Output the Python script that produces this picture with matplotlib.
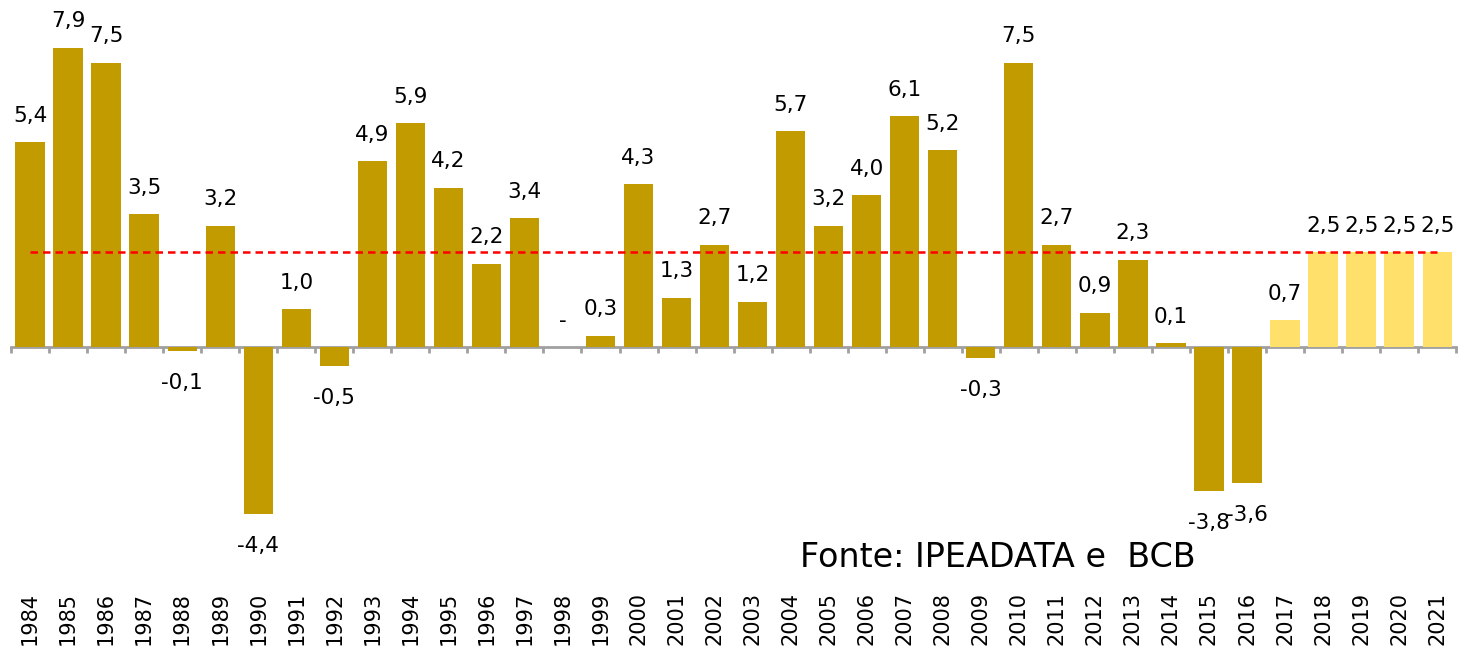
import numpy as np
import matplotlib as mpl
mpl.use('Agg')
import matplotlib.pyplot as plt
import matplotlib.transforms as mtransforms

mpl.rcParams['font.family'] = 'DejaVu Sans'

years = list(range(1984, 2022))
values = [5.4, 7.9, 7.5, 3.5, -0.1, 3.2, -4.4, 1.0, -0.5, 4.9,
          5.9, 4.2, 2.2, 3.4, 0.0, 0.3, 4.3, 1.3, 2.7, 1.2,
          5.7, 3.2, 4.0, 6.1, 5.2, -0.3, 7.5, 2.7, 0.9, 2.3,
          0.1, -3.8, -3.6, 0.7, 2.5, 2.5, 2.5, 2.5]
labels = ['5,4', '7,9', '7,5', '3,5', '-0,1', '3,2', '-4,4', '1,0', '-0,5', '4,9',
          '5,9', '4,2', '2,2', '3,4', '-', '0,3', '4,3', '1,3', '2,7', '1,2',
          '5,7', '3,2', '4,0', '6,1', '5,2', '-0,3', '7,5', '2,7', '0,9', '2,3',
          '0,1', '-3,8', '-3,6', '0,7', '2,5', '2,5', '2,5', '2,5']
first_proj = 2017   # projections in light colour
ref_level = 2.5

dark = '#c29b00'
light = '#fee06a'
axis_gray = '#a0a0a0'

fig = plt.figure(figsize=(14.71, 6.5), dpi=100)
ax = fig.add_axes([0, 0, 1, 1])

x = np.arange(len(years))
colors = [light if y >= first_proj else dark for y in years]
ax.bar(x, values, width=0.77, color=colors, zorder=2)

# reference line
ax.plot([x[0], x[-1]], [ref_level, ref_level], color='#ff0000',
        linestyle=(0, (3, 2)), linewidth=1.8, zorder=3)

# value labels
for xi, v, lab in zip(x, values, labels):
    if v < 0:
        off = -23
    else:
        off = 19
    ax.annotate(lab, (xi, v), xytext=(0, off), textcoords='offset points',
                ha='center', va='center', fontsize=15.5)

# zero axis with ticks between bars
ax.set_xlim(-0.79, 37.89)
ax.set_ylim(-8.0, 9.16)
for s in ax.spines.values():
    s.set_visible(False)
ax.set_yticks([])
ax.set_xticks([])
ticks = np.arange(-0.5, len(years), 1.0)
ax.vlines(ticks, 0, -0.16, color=axis_gray, linewidth=2, zorder=1)
ax.plot([-0.5, len(years) - 0.5], [0, 0], color=axis_gray, linewidth=2, zorder=1)

# year labels at the bottom
trans = mtransforms.blended_transform_factory(ax.transData, ax.transAxes)
for xi, y in zip(x, years):
    ax.text(xi, 0.008, str(y), transform=trans, rotation=90,
            ha='center', va='bottom', fontsize=15)

ax.text(20.25, -5.55, 'Fonte: IPEADATA e  BCB', fontsize=24,
        ha='left', va='center')

plt.savefig('out.png', dpi=100)
